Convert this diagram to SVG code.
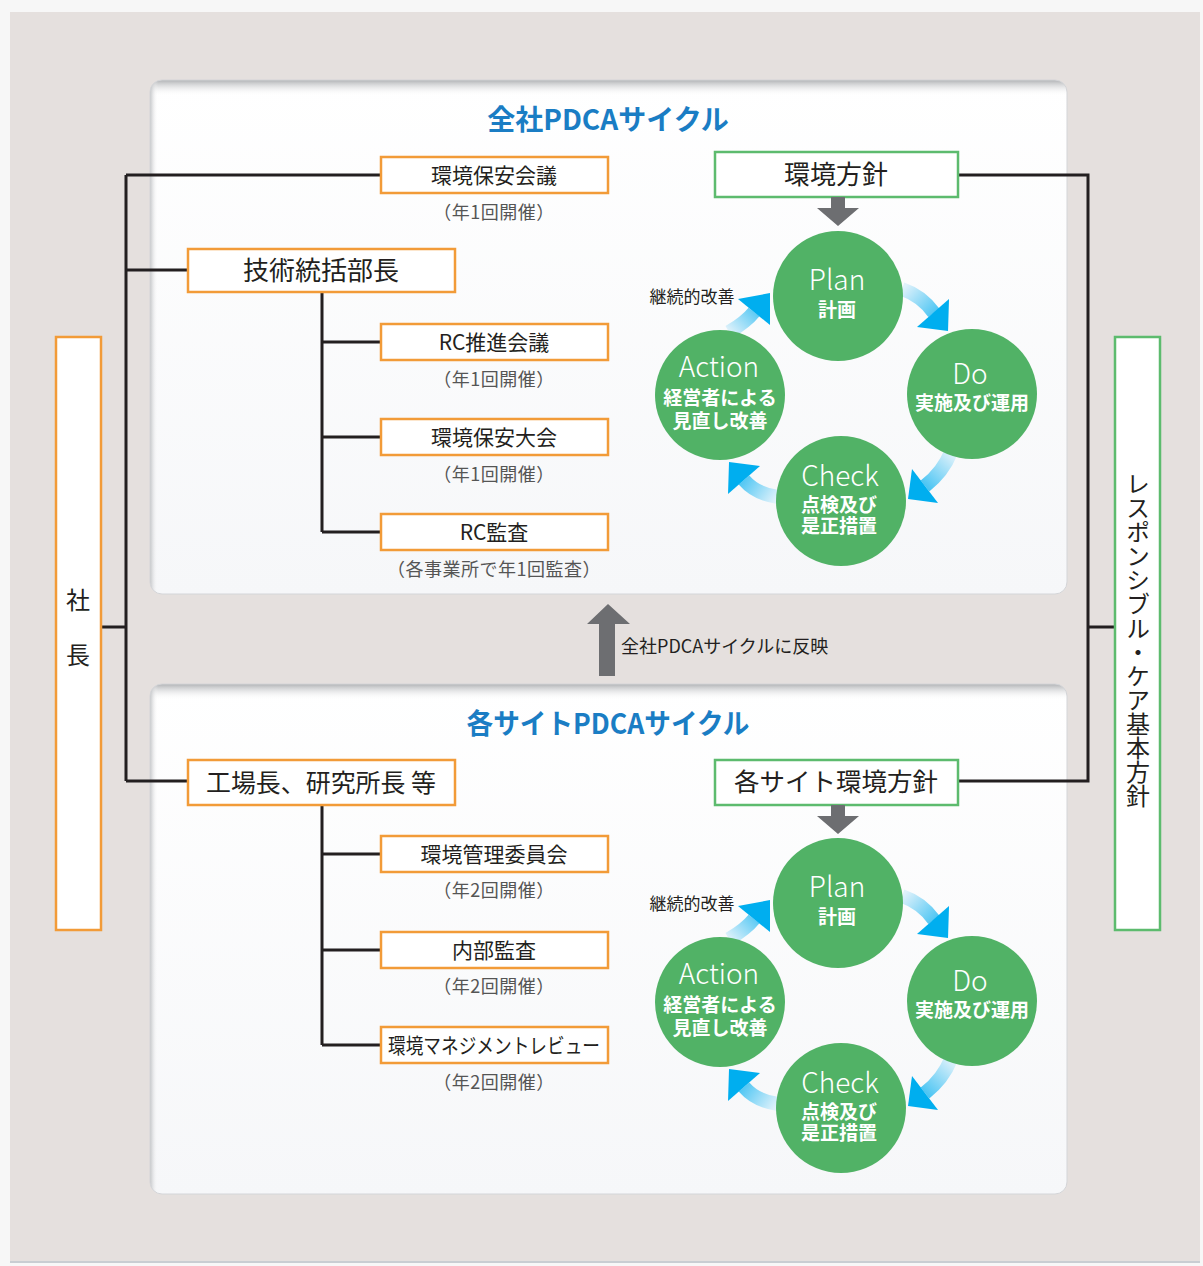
<svg xmlns="http://www.w3.org/2000/svg" width="1203" height="1266" viewBox="0 0 1203 1266">
<defs>
<style>
text{font-family:"Noto Sans CJK JP","Noto Sans",sans-serif;fill:#231f20}
.ob{fill:#fff;stroke:#f29b38;stroke-width:2.5}
.gb{fill:#fff;stroke:#5dbb6e;stroke-width:2.5}
.ln{fill:none;stroke:#231f20;stroke-width:3}
.lb{font-size:21px;text-anchor:middle}
.lb2{font-size:26px;text-anchor:middle}
.sub{font-size:18px;text-anchor:middle;fill:#555;letter-spacing:0.5px}
.ttl{font-size:28px;font-weight:bold;fill:#1a7dc4;text-anchor:middle}
.cir{fill:#51b266}
.en{font-size:28px;font-weight:300;fill:#fff;text-anchor:middle}
.jp{font-size:19px;font-weight:bold;fill:#fff;text-anchor:middle}
.ar{fill:none;stroke-width:14}
.gray{fill:#6d6e71}
</style>
<linearGradient id="g1" gradientUnits="userSpaceOnUse" x1="902" y1="289" x2="948" y2="331"><stop offset="0" stop-color="#e0f2fb"/><stop offset="1" stop-color="#00aeef"/></linearGradient>
<linearGradient id="g2" gradientUnits="userSpaceOnUse" x1="951" y1="452" x2="908" y2="499"><stop offset="0" stop-color="#e0f2fb"/><stop offset="1" stop-color="#00aeef"/></linearGradient>
<linearGradient id="g3" gradientUnits="userSpaceOnUse" x1="778" y1="497" x2="729" y2="462"><stop offset="0" stop-color="#e0f2fb"/><stop offset="1" stop-color="#00aeef"/></linearGradient>
<linearGradient id="g4" gradientUnits="userSpaceOnUse" x1="729" y1="332" x2="770" y2="293"><stop offset="0" stop-color="#e0f2fb"/><stop offset="1" stop-color="#00aeef"/></linearGradient>
<linearGradient id="shT" x1="0" y1="0" x2="0" y2="1"><stop offset="0" stop-color="#a7a9ac" stop-opacity="0.9"/><stop offset="1" stop-color="#ffffff" stop-opacity="0"/></linearGradient>
<linearGradient id="shL" x1="0" y1="0" x2="1" y2="0"><stop offset="0" stop-color="#b5b7ba" stop-opacity="0.8"/><stop offset="1" stop-color="#ffffff" stop-opacity="0"/></linearGradient>
<linearGradient id="pnl" x1="0" y1="0" x2="0" y2="1"><stop offset="0" stop-color="#ffffff"/><stop offset="1" stop-color="#f6f7f9"/></linearGradient>
<clipPath id="c1"><rect x="150" y="80" width="917" height="514" rx="12"/></clipPath>
<clipPath id="c2"><rect x="150" y="684" width="917" height="510" rx="12"/></clipPath>
</defs>

<g id="background">
<rect x="0" y="0" width="1203" height="1266" fill="#f7f7f7"/>
<rect x="10" y="12" width="1190" height="1250" fill="#e5e0de"/>
<rect x="10" y="1261" width="1190" height="2" fill="#c9cdd2"/>
<g clip-path="url(#c1)">
<rect x="150" y="80" width="917" height="514" fill="url(#pnl)"/>
<rect x="150" y="80" width="917" height="16" fill="url(#shT)"/>
<rect x="150" y="80" width="8" height="514" fill="url(#shL)"/>
</g>
<rect x="150" y="80" width="917" height="514" rx="12" fill="none" stroke="#d4d5d8" stroke-width="1"/>
<g clip-path="url(#c2)">
<rect x="150" y="684" width="917" height="510" fill="url(#pnl)"/>
<rect x="150" y="684" width="917" height="16" fill="url(#shT)"/>
<rect x="150" y="684" width="8" height="510" fill="url(#shL)"/>
</g>
<rect x="150" y="684" width="917" height="510" rx="12" fill="none" stroke="#d4d5d8" stroke-width="1"/>
</g>

<g id="titles">
<text class="ttl" x="608" y="130">全社PDCAサイクル</text>
<text class="ttl" x="608" y="734" textLength="283" lengthAdjust="spacingAndGlyphs">各サイトPDCAサイクル</text>
</g>

<g id="connectors">
<path class="ln" d="M101 627 H126 M126 175 V781 M126 175 H381 M126 270 H188 M126 781 H188"/>
<path class="ln" d="M322 292 V532 M322 342 H381 M322 437 H381 M322 532 H381"/>
<path class="ln" d="M322 805 V1045 M322 854 H381 M322 950 H381 M322 1045 H381"/>
<path class="ln" d="M958 175 H1088 V781 H958 M1088 627 H1115"/>
</g>

<g id="president">
<rect class="ob" x="56" y="337" width="45" height="593"/>
<text x="78" y="609" font-size="24" text-anchor="middle">社</text>
<text x="78" y="664" font-size="24" text-anchor="middle">長</text>
</g>

<g id="rc-policy">
<rect class="gb" x="1115" y="337" width="45" height="593"/>
<text x="1138" y="640" font-size="24" text-anchor="middle" style="writing-mode:vertical-rl">レスポンシブル・ケア基本方針</text>
</g>

<g id="n-hoan-kaigi">
<rect class="ob" x="381" y="157" width="227" height="36"/>
<text class="lb" x="494" y="183">環境保安会議</text>
<text class="sub" x="494" y="219">（年1回開催）</text>
</g>
<g id="n-gijutsu">
<rect class="ob" x="188" y="249" width="267" height="43"/>
<text class="lb2" x="321" y="280">技術統括部長</text>
</g>
<g id="n-rc-suishin">
<rect class="ob" x="381" y="324" width="227" height="36"/>
<text class="lb" x="494" y="350">RC推進会議</text>
<text class="sub" x="494" y="386">（年1回開催）</text>
</g>
<g id="n-hoan-taikai">
<rect class="ob" x="381" y="419" width="227" height="36"/>
<text class="lb" x="494" y="445">環境保安大会</text>
<text class="sub" x="494" y="481">（年1回開催）</text>
</g>
<g id="n-rc-kansa">
<rect class="ob" x="381" y="514" width="227" height="36"/>
<text class="lb" x="494" y="540">RC監査</text>
<text class="sub" x="494" y="576">（各事業所で年1回監査）</text>
</g>

<g id="n-kojocho">
<rect class="ob" x="188" y="760" width="267" height="45"/>
<text x="321" y="792" font-size="25" text-anchor="middle" textLength="230" lengthAdjust="spacingAndGlyphs">工場長、研究所長 等</text>
</g>
<g id="n-kanri-iinkai">
<rect class="ob" x="381" y="836" width="227" height="36"/>
<text class="lb" x="494" y="862">環境管理委員会</text>
<text class="sub" x="494" y="897">（年2回開催）</text>
</g>
<g id="n-naibu-kansa">
<rect class="ob" x="381" y="932" width="227" height="36"/>
<text class="lb" x="494" y="958">内部監査</text>
<text class="sub" x="494" y="993">（年2回開催）</text>
</g>
<g id="n-review">
<rect class="ob" x="381" y="1027" width="227" height="36"/>
<text class="lb" x="494" y="1053" textLength="212" lengthAdjust="spacingAndGlyphs">環境マネジメントレビュー</text>
<text class="sub" x="494" y="1089">（年2回開催）</text>
</g>

<g id="n-hoshin">
<rect class="gb" x="715" y="152" width="243" height="45"/>
<text class="lb2" x="836" y="184">環境方針</text>
</g>
<g id="n-site-hoshin">
<rect class="gb" x="715" y="760" width="243" height="45"/>
<text x="836" y="791" font-size="25.5" text-anchor="middle">各サイト環境方針</text>
</g>

<g id="reflect-arrow">
<polygon class="gray" points="608,604 630,624 615,624 615,676 599,676 599,624 587,624"/>
<text x="621" y="653" font-size="18" fill="#333">全社PDCAサイクルに反映</text>
</g>

<g id="cycle-top">
<polygon class="gray" points="831,197 845,197 845,208 859,208 838,226 817,208 831,208"/>
<path class="ar" stroke="url(#g1)" d="M902 289 Q922 296 934 313"/>
<polygon fill="#00aeef" points="949,299 917,327 948,331"/>
<path class="ar" stroke="url(#g2)" d="M951 452 Q943 472 925 486"/>
<polygon fill="#00aeef" points="938,503 912,469 908,499"/>
<path class="ar" stroke="url(#g3)" d="M778 497 Q756 494 744 480"/>
<polygon fill="#00aeef" points="760,466 728,494 729,462"/>
<path class="ar" stroke="url(#g4)" d="M729 332 Q746 322 754 312"/>
<polygon fill="#00aeef" points="770,325 738,299 770,293"/>
<text x="692" y="303" font-size="17" text-anchor="middle" fill="#333">継続的改善</text>
<g id="plan"><circle class="cir" cx="838" cy="296" r="65"/><text class="en" x="837" y="290">Plan</text><text class="jp" x="837" y="317">計画</text></g>
<g id="do"><circle class="cir" cx="972" cy="394" r="65"/><text class="en" x="970" y="384">Do</text><text class="jp" x="972" y="410">実施及び運用</text></g>
<g id="check"><circle class="cir" cx="841" cy="501" r="65"/><text class="en" x="840" y="486">Check</text><text class="jp"><tspan x="839" y="512">点検及び</tspan><tspan x="839" y="533">是正措置</tspan></text></g>
<g id="action"><circle class="cir" cx="720" cy="395" r="65"/><text class="en" x="719" y="377">Action</text><text class="jp"><tspan x="720" y="405">経営者による</tspan><tspan x="720" y="428">見直し改善</tspan></text></g>
</g>

<g id="cycle-bottom" transform="translate(0,607)">
<polygon class="gray" points="831,198 845,198 845,209 859,209 838,227 817,209 831,209"/>
<path class="ar" stroke="url(#g1)" d="M902 289 Q922 296 934 313"/>
<polygon fill="#00aeef" points="949,299 917,327 948,331"/>
<path class="ar" stroke="url(#g2)" d="M951 452 Q943 472 925 486"/>
<polygon fill="#00aeef" points="938,503 912,469 908,499"/>
<path class="ar" stroke="url(#g3)" d="M778 497 Q756 494 744 480"/>
<polygon fill="#00aeef" points="760,466 728,494 729,462"/>
<path class="ar" stroke="url(#g4)" d="M729 332 Q746 322 754 312"/>
<polygon fill="#00aeef" points="770,325 738,299 770,293"/>
<text x="692" y="303" font-size="17" text-anchor="middle" fill="#333">継続的改善</text>
<g id="plan2"><circle class="cir" cx="838" cy="296" r="65"/><text class="en" x="837" y="290">Plan</text><text class="jp" x="837" y="317">計画</text></g>
<g id="do2"><circle class="cir" cx="972" cy="394" r="65"/><text class="en" x="970" y="384">Do</text><text class="jp" x="972" y="410">実施及び運用</text></g>
<g id="check2"><circle class="cir" cx="841" cy="501" r="65"/><text class="en" x="840" y="486">Check</text><text class="jp"><tspan x="839" y="512">点検及び</tspan><tspan x="839" y="533">是正措置</tspan></text></g>
<g id="action2"><circle class="cir" cx="720" cy="395" r="65"/><text class="en" x="719" y="377">Action</text><text class="jp"><tspan x="720" y="405">経営者による</tspan><tspan x="720" y="428">見直し改善</tspan></text></g>
</g>
</svg>
